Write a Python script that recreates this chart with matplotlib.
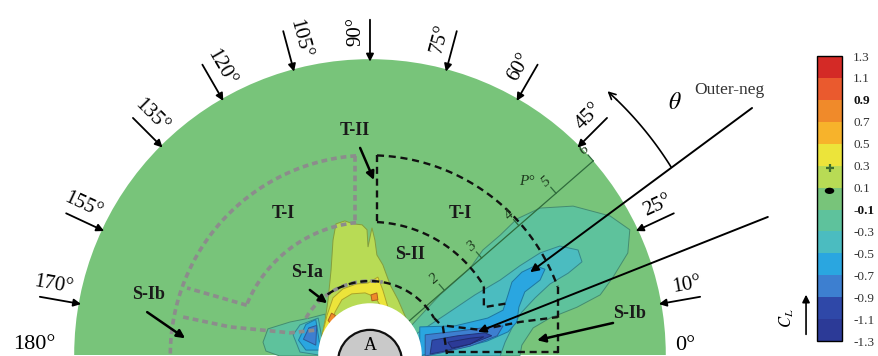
import numpy as np
import matplotlib.pyplot as plt
from matplotlib import patches
from matplotlib.colors import ListedColormap, BoundaryNorm
from matplotlib.cm import ScalarMappable

plt.rcParams['font.family'] = ['Liberation Serif', 'DejaVu Serif']
plt.rcParams['mathtext.fontset'] = 'stix'

# lift coefficient bands
cl_levels = [-1.3, -1.1, -0.9, -0.7, -0.5, -0.3, -0.1, 0.1, 0.3, 0.5, 0.7, 0.9, 1.1, 1.3]
cl_colors = ['#2c3a97', '#2f48a8', '#3d7fd0', '#2aa6e0', '#4bbcc0', '#5ec29c', '#78c47a',
             '#b8db55', '#ece43a', '#f7b32b', '#f08a2a', '#ea5a2e', '#d42a26']
cl_bold = ['0.9', '-0.1']

# positions of cylinder B around cylinder A (deg), radial gap P in D
theta_marks = [10, 25, 45, 60, 75, 90, 105, 120, 135, 155, 170]
p_marks = [2, 3, 4, 5, 6]
p_angle = 41
outer_r = 6.0
cyl_r = 1.05

# C_L patches (x/D, y/D) -- right wake, negative lift
right_m01 = [(0.85, 0.61), (1.42, 1.22), (2.03, 1.76), (2.29, 2.13), (2.64, 2.43), (2.98, 2.76),
             (3.45, 2.98), (4.12, 3.02), (4.87, 2.82), (5.27, 2.54), (5.23, 2.07), (4.93, 1.58),
             (4.67, 1.22), (4.20, 0.97), (3.65, 0.75), (3.31, 0.55), (3.08, 0.20), (3.04, -0.02),
             (0.5, -0.02), (0.5, 0.5)]
right_m03 = [(0.91, 0.41), (1.52, 0.81), (2.13, 1.22), (2.64, 1.52), (3.04, 1.81), (3.45, 2.07),
             (3.85, 2.21), (4.22, 2.13), (4.30, 1.89), (4.02, 1.66), (3.65, 1.44), (3.35, 1.16),
             (3.08, 0.87), (2.90, 0.59), (2.74, 0.26), (2.64, -0.02), (0.9, -0.02)]
right_m05 = [(1.01, 0.57), (1.72, 0.59), (2.39, 0.75), (2.70, 0.91), (2.80, 1.22), (2.88, 1.48),
             (3.08, 1.68), (3.35, 1.81), (3.55, 1.74), (3.45, 1.52), (3.14, 1.28), (3.02, 0.97),
             (2.98, 0.67), (2.80, 0.47), (2.37, 0.28), (1.83, 0.14), (1.22, 0.04), (1.01, -0.02)]
right_m07 = [(1.12, 0.41), (1.83, 0.49), (2.43, 0.57), (2.70, 0.59), (2.58, 0.39), (2.03, 0.18),
             (1.42, 0.04), (1.12, -0.02)]
right_m09 = [(1.26, 0.30), (1.78, 0.39), (2.33, 0.45), (2.47, 0.39), (2.03, 0.22), (1.52, 0.08),
             (1.22, 0.02)]
right_m11 = [(1.58, 0.26), (2.03, 0.34), (2.31, 0.37), (2.03, 0.22), (1.66, 0.14)]

# left side, small negative pocket
left_m01 = [(-2.17, 0.26), (-2.07, 0.53), (-1.62, 0.67), (-1.22, 0.75), (-0.91, 0.83),
            (-0.81, -0.02), (-1.83, -0.02), (-2.11, 0.08)]
left_m03 = [(-1.56, 0.41), (-1.42, 0.61), (-1.05, 0.75), (-0.91, -0.02), (-1.42, 0.06)]
left_m05 = [(-1.45, 0.30), (-1.30, 0.62), (-1.10, 0.72), (-1.00, 0.10), (-1.30, 0.10)]
left_m07 = [(-1.35, 0.32), (-1.24, 0.55), (-1.08, 0.60), (-1.10, 0.20)]

# upper side, positive lift
top_p01 = [(-1.01, 0.20), (-0.91, 0.71), (-0.85, 1.12), (-0.79, 1.72), (-0.75, 2.33), (-0.69, 2.66),
           (-0.51, 2.72), (-0.34, 2.66), (-0.16, 2.64), (-0.06, 2.54), (-0.04, 2.19), (0.04, 2.58),
           (0.10, 2.33), (0.14, 2.03), (0.26, 1.83), (0.41, 1.42), (0.57, 1.12), (0.73, 0.75),
           (0.5, 0.4), (-0.5, 0.4)]
top_p03 = [(-0.97, 0.41), (-0.87, 0.81), (-0.75, 1.16), (-0.55, 1.34), (-0.28, 1.44), (-0.04, 1.46),
           (0.16, 1.58), (0.26, 1.32), (0.37, 0.95), (0.22, 0.99), (0.10, 1.18), (-0.10, 1.26),
           (-0.37, 1.24), (-0.57, 1.12), (-0.71, 0.87), (-0.81, 0.51)]
top_p07a = [(-0.85, 0.70), (-0.78, 0.85), (-0.70, 0.80), (-0.78, 0.62)]
top_p07b = [(0.02, 1.22), (0.14, 1.26), (0.16, 1.12), (0.04, 1.10)]

contour_patches = [(-0.2, right_m01), (-0.4, right_m03), (-0.6, right_m05), (-0.8, right_m07),
                   (-1.0, right_m09), (-1.2, right_m11),
                   (-0.2, left_m01), (-0.4, left_m03), (-0.6, left_m05), (-0.8, left_m07),
                   (0.2, top_p01), (0.4, top_p03), (0.8, top_p07a), (0.8, top_p07b)]

# zone boundaries: arcs (r, from deg, to deg) and polylines
black_arcs = [(4.05, 88, 20), (2.7, 87, 31), (1.5, 125, 30)]
black_lines = [[(3.81, 1.385), (3.81, 0.02)],
               [(0.14, 4.05), (0.14, 2.70)],
               [(2.31, 1.39), (2.31, 0.97), (2.80, 1.05)],
               [(1.30, 0.75), (1.48, 0.57), (1.56, 0.02)],
               [(1.56, 0.59), (2.23, 0.51), (3.04, 0.67), (3.81, 0.77)],
               [(1.56, 0.06), (3.81, 0.06)]]
grey_arcs = [(4.05, 94, 180), (2.7, 96, 158), (1.5, 150, 80)]
grey_lines = [[(-0.30, 4.04), (-0.30, 2.68)],
              [(-2.50, 1.01), (-3.71, 1.36)],
              [(-3.79, 0.77), (-2.84, 0.57), (-1.62, 0.45), (-1.05, 0.51)]]

zone_labels = [('T-II', -0.30, 4.56), ('T-I', -1.76, 2.88), ('T-I', 1.83, 2.88), ('S-II', 0.81, 2.03),
               ('S-Ia', -1.28, 1.68), ('S-Ib', -4.50, 1.22), ('S-Ib', 5.27, 0.85)]
zone_arrows = [((-0.20, 4.20), (0.08, 3.55)), ((-1.22, 1.32), (-0.87, 1.05)),
               ((-4.52, 0.87), (-3.75, 0.34)), ((4.93, 0.65), (3.39, 0.30))]


def arc(r, a0, a1):
    a = np.radians(np.linspace(a0, a1, 120))
    return r * np.cos(a), r * np.sin(a)


def polar(r, deg):
    t = np.radians(deg)
    return r * np.cos(t), r * np.sin(t)


cmap = ListedColormap(cl_colors)
norm = BoundaryNorm(cl_levels, cmap.N)

fig = plt.figure(figsize=(8.79, 3.56), dpi=100)
ax = fig.add_axes([0, 0, 1, 1])
ax.set_xlim(-7.505, 10.325)
ax.set_ylim(-0.02, 7.2)
ax.axis('off')

# background field (C_L ~ 0)
ax.add_patch(patches.Wedge((0, 0), outer_r, 0, 180, fc=cl_colors[6], ec='none', zorder=1))

for val, pts in contour_patches:
    xy = np.array(pts)
    c = np.array(cmap(norm(val))[:3])
    ax.fill(xy[:, 0], xy[:, 1], fc=c, ec=c * 0.72, lw=0.7, zorder=2)

# P ray with distance ticks
pa = np.radians(p_angle)
u = np.array([np.cos(pa), np.sin(pa)])
n = np.array([-np.sin(pa), np.cos(pa)])
ax.plot([cyl_r * u[0], outer_r * u[0]], [cyl_r * u[1], outer_r * u[1]], color='#2f6b3c', lw=0.9, zorder=3)
for p in p_marks:
    a, b = p * u, p * u + 0.16 * n
    ax.plot([a[0], b[0]], [a[1], b[1]], color='#2f6b3c', lw=0.9, zorder=3)
    t = p * u + 0.3 * n
    ax.text(t[0], t[1], str(p), fontsize=11, style='italic', color='#1e3a1e',
            ha='center', va='center', rotation=p_angle, zorder=4)
ax.text(3.18, 3.51, 'P°', fontsize=11, style='italic', color='#1e3a1e', ha='center', va='center', zorder=4)

# zone boundaries
for r, a0, a1 in grey_arcs:
    x, y = arc(r, a0, a1)
    ax.plot(x, y, color='#8c8c8c', lw=2.6, dashes=(1.6, 1.1), zorder=3)
for line in grey_lines:
    xy = np.array(line)
    ax.plot(xy[:, 0], xy[:, 1], color='#8c8c8c', lw=2.6, dashes=(1.6, 1.1), zorder=3)
for r, a0, a1 in black_arcs:
    x, y = arc(r, a0, a1)
    ax.plot(x, y, color='#111111', lw=1.7, dashes=(3, 2), zorder=3)
for line in black_lines:
    xy = np.array(line)
    ax.plot(xy[:, 0], xy[:, 1], color='#111111', lw=1.7, dashes=(3, 2), zorder=3)

# cylinder A
ax.add_patch(patches.Circle((0, 0), cyl_r, fc='white', ec='none', zorder=5))
ax.add_patch(patches.Circle((0, -0.14), 0.65, fc='#c9c9c9', ec='#111111', lw=1.6, zorder=6))
ax.text(0, 0.2, 'A', fontsize=13, ha='center', va='center', zorder=7)

# incidence angle arrows
for th in theta_marks:
    ax.annotate('', xy=polar(5.95, th), xytext=polar(6.8, th),
                arrowprops=dict(arrowstyle='-|>', color='k', lw=1.3, mutation_scale=11,
                                shrinkA=0, shrinkB=0), zorder=8)
    side = 1 if th <= 90 else -1
    lx, ly = polar(6.57, th + 2.5 * side)
    ax.text(lx, ly, f'{th}°', fontsize=15,
            rotation=th if th <= 90 else th - 180, rotation_mode='anchor',
            ha='center', va='center', zorder=8)
ax.text(-6.8, 0.22, '180°', fontsize=16, ha='center', va='center')
ax.text(6.39, 0.2, '0°', fontsize=16, ha='center', va='center')

for txt, x, y in zone_labels:
    ax.text(x, y, txt, fontsize=13, fontweight='bold', color='#1a1a1a', ha='center', va='center', zorder=9)
for tail, head in zone_arrows:
    ax.annotate('', xy=head, xytext=tail, zorder=9,
                arrowprops=dict(arrowstyle='-|>', color='k', lw=1.8, mutation_scale=12,
                                shrinkA=0, shrinkB=0))

# outer negative pockets and incidence angle
ax.annotate('', xy=(3.25, 1.68), xytext=(7.75, 5.01), zorder=9,
            arrowprops=dict(arrowstyle='-|>', color='k', lw=1.4, mutation_scale=12, shrinkA=0, shrinkB=0))
ax.annotate('', xy=(2.19, 0.47), xytext=(8.07, 2.80), zorder=9,
            arrowprops=dict(arrowstyle='-|>', color='k', lw=1.4, mutation_scale=12, shrinkA=0, shrinkB=0))
ax.text(7.28, 5.38, 'Outer-neg', fontsize=12.5, color='#333333', ha='center', va='center')
x, y = arc(7.2, 32, 46)
ax.plot(x, y, color='k', lw=1.2)
ax.annotate('', xy=polar(7.2, 48), xytext=(x[-1], y[-1]),
            arrowprops=dict(arrowstyle='->', color='k', lw=1.2, mutation_scale=12, shrinkA=0, shrinkB=0))
ax.text(6.19, 5.11, r'$\theta$', fontsize=17, ha='center', va='center')

# colour bar
cax = fig.add_axes([0.9295, 0.042, 0.0284, 0.8006])
cb = fig.colorbar(ScalarMappable(norm=norm, cmap=cmap), cax=cax, ticks=cl_levels)
cb.ax.set_yticklabels([f'{v:.1f}' for v in cl_levels])
cb.ax.tick_params(length=0, pad=8, labelsize=9.5, labelcolor='#333333')
for lab in cb.ax.get_yticklabels():
    if lab.get_text() in cl_bold:
        lab.set_fontweight('bold')
        lab.set_color('#111111')
cb.outline.set_linewidth(1.0)
cax.plot([0.5], [0.28], marker='+', color='#3e6e2e', ms=6, mew=1.6)
cax.add_patch(patches.Ellipse((0.5, 0.527), 0.38, 0.022, transform=cax.transAxes, fc='k', ec='none'))

fig.text(0.895, 0.107, '$C_L$', rotation=90, fontsize=12, ha='center', va='center')
fig.add_artist(patches.FancyArrowPatch((0.917, 0.053), (0.917, 0.18), transform=fig.transFigure,
                                       arrowstyle='-|>', mutation_scale=11, color='k', lw=1.2))

fig.savefig('out.png', dpi=100)
